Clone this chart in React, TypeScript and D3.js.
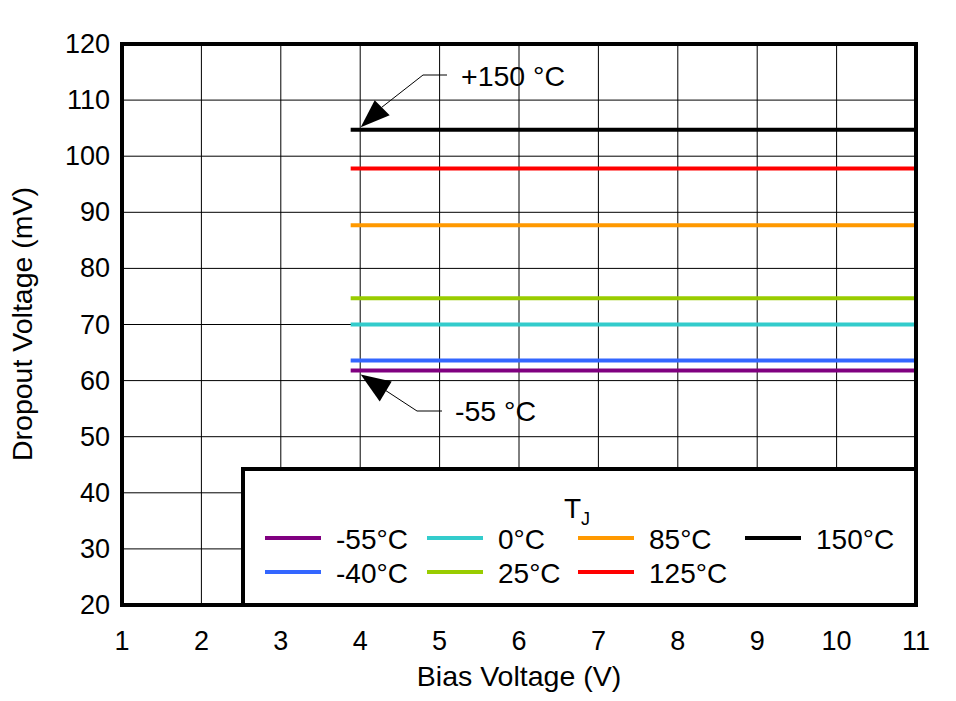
import React from 'react';
import * as d3 from 'd3';

const temps = ['-55°C', '-40°C', '0°C', '25°C', '85°C', '125°C', '150°C'];
const colors = ['#800080', '#3366FF', '#33CCCC', '#99CC00', '#FF9900', '#FF0000', '#000000'];
const dropout = [61.8, 63.6, 70.0, 74.7, 87.7, 97.8, 104.7];
const biasRange = [3.88, 11];
const xTicks = [1, 2, 3, 4, 5, 6, 7, 8, 9, 10, 11];
const yTicks = [20, 30, 40, 50, 60, 70, 80, 90, 100, 110, 120];

const W = 956, H = 701;
const M = { left: 122, top: 44, right: 916, bottom: 605 };
const FONT = 'Liberation Sans, Arial, sans-serif';

export default function App() {
  const x = d3.scaleLinear().domain([1, 11]).range([M.left, M.right]);
  const y = d3.scaleLinear().domain([20, 120]).range([M.bottom, M.top]);
  const line = d3.line<[number, number]>().x(d => x(d[0])).y(d => y(d[1]));

  const legX = [265, 427, 578, 745];
  const legRowY = [538, 572];

  const tip150: [number, number] = [x(4) + 0.5, y(dropout[6]) - 2.5];
  const tip55: [number, number] = [x(4) + 0.5, y(dropout[0]) + 4];

  return (
    <svg width={W} height={H} style={{ position: 'absolute', left: 0, top: 0, background: '#fff' }} fontFamily={FONT}>
      <rect x={0} y={0} width={W} height={H} fill="#fff" />
      {xTicks.map(t => (
        <line key={'gx' + t} x1={x(t)} x2={x(t)} y1={M.top} y2={M.bottom} stroke="#000" strokeWidth={1} />
      ))}
      {yTicks.map(t => (
        <line key={'gy' + t} x1={M.left} x2={M.right} y1={y(t)} y2={y(t)} stroke="#000" strokeWidth={1} />
      ))}
      {dropout.map((v, i) => (
        <path key={'s' + i} d={line([[biasRange[0], v], [biasRange[1], v]]) || ''} stroke={colors[i]} strokeWidth={4} fill="none" />
      ))}
      <rect x={243} y={469} width={M.right - 243} height={M.bottom - 469} fill="#fff" stroke="#000" strokeWidth={4} />
      <text x={564} y={518} fontSize={28}>T<tspan fontSize={18} dy={7}>J</tspan></text>
      {temps.map((t, i) => {
        const col = Math.floor(i / 2);
        const row = i % 2;
        const lx = legX[col];
        const ly = legRowY[row];
        return (
          <g key={'l' + i}>
            <line x1={lx} x2={lx + 56} y1={ly} y2={ly} stroke={colors[i]} strokeWidth={4} />
            <text x={lx + 71} y={ly + 1} dominantBaseline="central" fontSize={28}>{t}</text>
          </g>
        );
      })}
      <rect x={M.left} y={M.top} width={M.right - M.left} height={M.bottom - M.top} fill="none" stroke="#000" strokeWidth={4} />
      {yTicks.map(t => (
        <text key={'yl' + t} x={110} y={y(t)} textAnchor="end" dominantBaseline="central" fontSize={27}>{t}</text>
      ))}
      {xTicks.map(t => (
        <text key={'xl' + t} x={x(t)} y={650} textAnchor="middle" fontSize={27}>{t}</text>
      ))}
      <text x={519} y={686} textAnchor="middle" fontSize={28.5}>Bias Voltage (V)</text>
      <text transform="translate(32,324) rotate(-90)" textAnchor="middle" fontSize={28.5}>Dropout Voltage (mV)</text>
      <polyline points={`447,75 423,75 ${tip150[0] + 21},${tip150[1] - 20}`} fill="none" stroke="#000" strokeWidth={1} />
      <polygon points={`${tip150[0]},${tip150[1]} ${tip150[0] + 14},${tip150[1] - 27} ${tip150[0] + 29},${tip150[1] - 12}`} fill="#000" />
      <text x={461} y={86} fontSize={28.5}>+150 °C</text>
      <polyline points={`442,411 417,411 ${tip55[0] + 25},${tip55[1] + 16}`} fill="none" stroke="#000" strokeWidth={1} />
      <polygon points={`${tip55[0]},${tip55[1]} ${tip55[0] + 31},${tip55[1] + 7} ${tip55[0] + 19},${tip55[1] + 27}`} fill="#000" />
      <text x={455} y={421} fontSize={28.5}>-55 °C</text>
    </svg>
  );
}
